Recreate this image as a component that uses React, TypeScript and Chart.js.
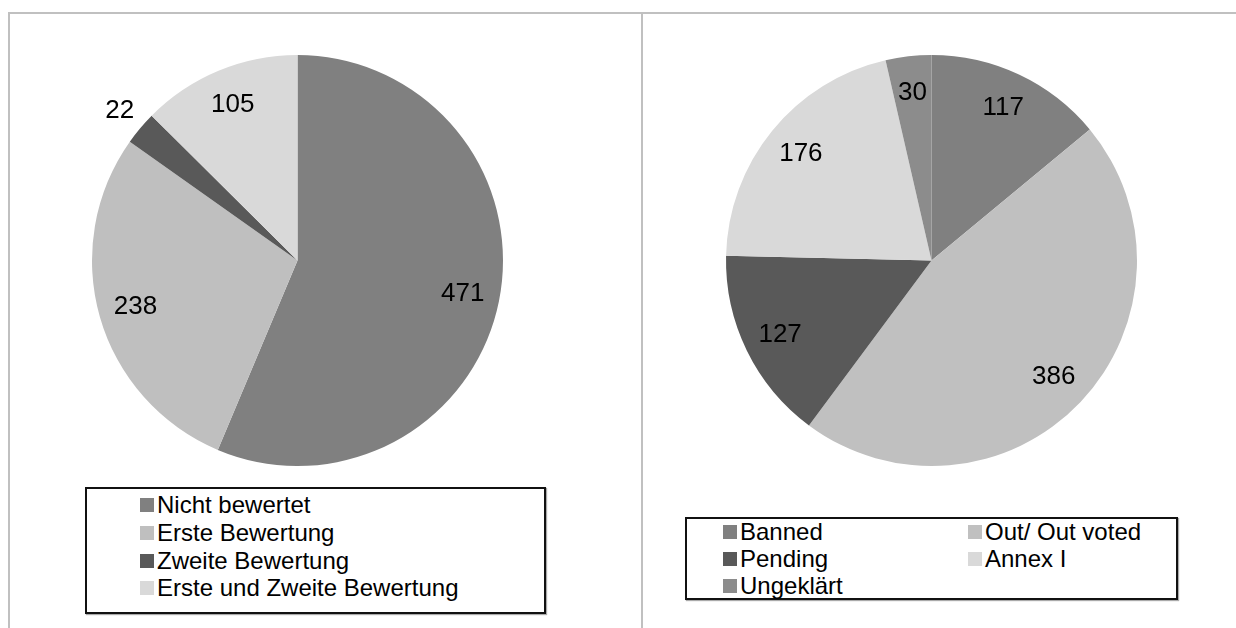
import React, { useEffect, useRef } from "react";
import { Chart, registerables } from "chart.js";

Chart.register(...registerables);

const leftLabels = ["Nicht bewertet", "Erste Bewertung", "Zweite Bewertung", "Erste und Zweite Bewertung"];
const leftValues = [471, 238, 22, 105];
const leftColors = ["#808080", "#bfbfbf", "#595959", "#d9d9d9"];

const rightLabels = ["Banned", "Out/ Out voted", "Pending", "Annex I", "Ungeklärt"];
const rightValues = [117, 386, 127, 176, 30];
const rightColors = ["#808080", "#c0c0c0", "#595959", "#d9d9d9", "#8c8c8c"];

const FONT = "'Liberation Sans', Arial, sans-serif";

const labelPlugin = {
  id: "sliceLabels",
  afterDatasetsDraw(chart: any) {
    const meta = chart.getDatasetMeta(0);
    const data = chart.data.datasets[0].data as number[];
    const total = data.reduce((a, b) => a + b, 0);
    const ctx = chart.ctx;
    ctx.save();
    ctx.font = `26px ${FONT}`;
    ctx.fillStyle = "#000";
    ctx.textAlign = "center";
    ctx.textBaseline = "middle";
    meta.data.forEach((arc: any, i: number) => {
      const p = arc.getProps(["x", "y", "startAngle", "endAngle", "outerRadius"], true);
      const mid = (p.startAngle + p.endAngle) / 2;
      const frac = data[i] / total;
      const k = frac < 0.03 ? 1.13 : 0.82;
      const x = p.x + Math.cos(mid) * p.outerRadius * k;
      const y = p.y + Math.sin(mid) * p.outerRadius * k;
      ctx.fillText(String(data[i]), x, y);
    });
    ctx.restore();
  },
};

function Pie({ labels, values, colors, style }: any) {
  const ref = useRef<HTMLCanvasElement>(null);
  useEffect(() => {
    const chart = new Chart(ref.current!, {
      type: "pie",
      data: {
        labels,
        datasets: [{ data: values, backgroundColor: colors, borderWidth: 0 }],
      },
      options: {
        responsive: false,
        animation: false,
        events: [],
        layout: { padding: 10 },
        plugins: { legend: { display: false }, tooltip: { enabled: false } },
      },
      plugins: [labelPlugin],
    });
    return () => chart.destroy();
  }, []);
  return <canvas ref={ref} width={431} height={431} style={{ position: "absolute", ...style }} />;
}

function Legend({ labels, colors, box, cols, colX, rowY }: any) {
  return (
    <div
      style={{
        position: "absolute",
        left: box.left,
        top: box.top,
        width: box.width,
        height: box.height,
        border: "2px solid #111",
        boxSizing: "border-box",
        boxShadow: "1px 1px 1px #aaa",
      }}
    >
      {labels.map((l: string, i: number) => {
        const c = i % cols;
        const r = Math.floor(i / cols);
        return (
          <div
            key={l}
            style={{
              position: "absolute",
              left: colX[c] - box.left - 2,
              top: rowY[r] - box.top - 16,
              height: 28,
              display: "flex",
              alignItems: "center",
              whiteSpace: "nowrap",
              font: `24px ${FONT}`,
              color: "#000",
            }}
          >
            <span style={{ display: "inline-block", width: 14, height: 14, background: colors[i], marginRight: 3 }} />
            {l}
          </div>
        );
      })}
    </div>
  );
}

export default function App() {
  return (
    <div style={{ position: "fixed", left: 0, top: 0, width: 1236, height: 628, background: "#fff", overflow: "hidden" }}>
      <div style={{ position: "absolute", left: 8, top: 12, width: 1228, height: 2, background: "#c0c0c0" }} />
      <div style={{ position: "absolute", left: 8, top: 12, width: 2, height: 616, background: "#c0c0c0" }} />
      <div style={{ position: "absolute", left: 641, top: 12, width: 2, height: 616, background: "#c0c0c0" }} />
      <Pie labels={leftLabels} values={leftValues} colors={leftColors} style={{ left: 82, top: 45 }} />
      <Pie labels={rightLabels} values={rightValues} colors={rightColors} style={{ left: 716, top: 45 }} />
      <Legend
        labels={leftLabels}
        colors={leftColors}
        box={{ left: 85, top: 487, width: 461, height: 127 }}
        cols={1}
        colX={[140]}
        rowY={[505, 533, 561, 588]}
      />
      <Legend
        labels={rightLabels}
        colors={rightColors}
        box={{ left: 685, top: 517, width: 493, height: 83 }}
        cols={2}
        colX={[723, 968]}
        rowY={[532, 559, 586]}
      />
    </div>
  );
}
